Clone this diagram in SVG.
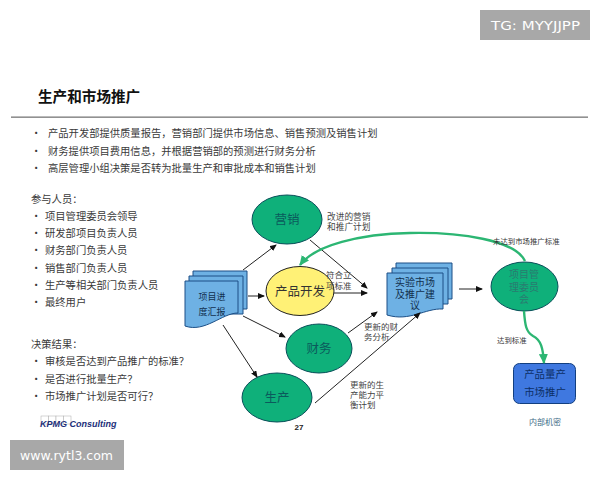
<svg xmlns="http://www.w3.org/2000/svg" width="600" height="480" viewBox="0 0 600 480">
<style>
text{font-family:"Noto Sans CJK SC","Liberation Serif",serif;fill:#333}
.b{font-size:10.300px;fill:#3a3a3a}
.s{font-size:8.500px;fill:#444}
.n{font-size:7.400px;fill:#333}
.c{text-anchor:middle}
.g{fill:#0fb07a;stroke:#0b4f5a;stroke-width:1}
.gt{font-size:12.500px;fill:#0b5a5c}
.ct{font-size:10px;fill:#2a7a70}
.doc{fill:#6eb1e4;stroke:#1c4f86;stroke-width:1}
.dt{fill:#12304f}
.mt{font-size:10.400px;fill:#0c2f66}
.a{fill:none;stroke:#222;stroke-width:1;marker-end:url(#m)}
.t{fill:none;stroke:#2cb673;stroke-width:2.400;marker-end:url(#gm)}
.wm{font-family:"DejaVu Sans",sans-serif;fill:#fff;font-size:12.500px}
.lb{fill:#fff;stroke:#aaa;stroke-width:.5}
.l{font-family:"Liberation Sans",sans-serif;font-weight:700}
</style>
<defs>
<marker id="m" markerWidth="7" markerHeight="6" refX="6" refY="3" orient="auto" markerUnits="userSpaceOnUse"><path d="M0 0L7 3L0 6z" fill="#111"/></marker>
<marker id="gm" markerWidth="10" markerHeight="9" refX="9" refY="4.500" orient="auto" markerUnits="userSpaceOnUse"><path d="M0 0L10 4.500L0 9z" fill="#2cb673"/></marker>
</defs>
<rect width="600" height="480" fill="#fff"/>
<g id="tg"><rect x="480" y="10" width="110" height="30" fill="#a8a8a8"/><text class="wm" x="491" y="30" textLength="89" lengthAdjust="spacingAndGlyphs">TG: MYYJJPP</text></g>
<g id="title"><text x="38" y="102" font-size="14.600" font-weight="700" style="fill:#111">生产和市场推广</text><rect x="11" y="116.500" width="577" height="1.300" fill="#777"/></g>
<g id="intro">
<text class="b" x="31" y="137">•</text><text class="b" x="48" y="137">产品开发部提供质量报告，营销部门提供市场信息、销售预测及销售计划</text>
<text class="b" x="31" y="155">•</text><text class="b" x="48" y="155">财务提供项目费用信息，并根据营销部的预测进行财务分析</text>
<text class="b" x="31" y="172">•</text><text class="b" x="48" y="172">高层管理小组决策是否转为批量生产和审批成本和销售计划</text>
</g>
<g id="people">
<text class="b" x="31" y="203">参与人员：</text>
<text class="b" x="31" y="220">•</text><text class="b" x="45" y="220">项目管理委员会领导</text>
<text class="b" x="31" y="237">•</text><text class="b" x="45" y="237">研发部项目负责人员</text>
<text class="b" x="31" y="254">•</text><text class="b" x="45" y="254">财务部门负责人员</text>
<text class="b" x="31" y="272">•</text><text class="b" x="45" y="272">销售部门负责人员</text>
<text class="b" x="31" y="289">•</text><text class="b" x="45" y="289">生产等相关部门负责人员</text>
<text class="b" x="31" y="306">•</text><text class="b" x="45" y="306">最终用户</text>
<text class="b" x="31" y="348">决策结果：</text>
<text class="b" x="31" y="365">•</text><text class="b" x="45" y="365">审核是否达到产品推广的标准？</text>
<text class="b" x="31" y="383">•</text><text class="b" x="45" y="383">是否进行批量生产？</text>
<text class="b" x="31" y="400">•</text><text class="b" x="45" y="400">市场推广计划是否可行？</text>
</g>
<g id="report">
<path class="doc" d="M193 271H247V309H193z"/>
<path class="doc" d="M189 276H243V314H189z"/>
<path class="doc" d="M185 281H238V313C222 313 205 333 185 326z"/>
<text class="c dt" font-size="9"><tspan x="212" y="300">项目进</tspan><tspan x="212" y="315">度汇报</tspan></text>
</g>
<g id="market"><ellipse class="g" cx="287" cy="219.500" rx="35" ry="24.500"/><text class="c gt" x="287" y="224">营销</text></g>
<g id="dev"><ellipse cx="300" cy="291" rx="34" ry="24.500" fill="#fff176" stroke="#222"/><text class="c" x="300" y="296" font-size="12.500">产品开发</text></g>
<g id="finance"><ellipse class="g" cx="319" cy="348.500" rx="33" ry="24.500"/><text class="c gt" x="319" y="353">财务</text></g>
<g id="prod"><ellipse class="g" cx="277" cy="397.500" rx="35" ry="24.500"/><text class="c gt" x="277" y="402">生产</text></g>
<g id="proposal">
<path class="doc" d="M396 263H452V299H396z"/>
<path class="doc" d="M392 268H448V304H392z"/>
<path class="doc" d="M387 273H443V309C425 308 410 322 387 315z"/>
<text class="c dt" font-size="10"><tspan x="415" y="286">实验市场</tspan><tspan x="415" y="298">及推广建</tspan><tspan x="415" y="309">议</tspan></text>
</g>
<g id="committee"><ellipse class="g" cx="524.500" cy="286.500" rx="33.500" ry="24.500"/>
<text class="c ct"><tspan x="524" y="278">项目管</tspan><tspan x="524" y="291">理委员</tspan><tspan x="524" y="303">会</tspan></text></g>
<g id="mass"><rect x="513.500" y="363.500" width="62" height="40" rx="6" fill="#3f78e0" stroke="#123f80" stroke-width="1"/>
<text class="c mt"><tspan x="545" y="378">产品量产</tspan><tspan x="545" y="396">市场推广</tspan></text></g>
<g id="connectors">
<path class="a" d="M243 270L276 245"/>
<path class="a" d="M248 296L264 296"/>
<path class="a" d="M243 316L285 337"/>
<path class="a" d="M223 325L257 377"/>
<path class="a" d="M310 240L367 288"/>
<path class="a" d="M334 293L367 293"/>
<path class="a" d="M348 333L377 312"/>
<path class="a" d="M315 403L420 313"/>
<path class="a" d="M459 289L482 289"/>
<path class="t" d="M525 261C515 240 460 232 410 233C360 234 315 245 300 265"/>
<path class="t" d="M524 311C525 325 526 332 533 336C541 340 543 348 544 363"/>
</g>
<g id="labels">
<text class="s" style="font-size:8.700px"><tspan x="327" y="220">改进的营销</tspan><tspan x="327" y="230">和推广计划</tspan></text>
<text class="s"><tspan x="326" y="278">符合立</tspan><tspan x="326" y="288.500">项标准</tspan></text>
<text class="s"><tspan x="364" y="330">更新的财</tspan><tspan x="364" y="340">务分析</tspan></text>
<text class="s"><tspan x="350" y="388">更新的生</tspan><tspan x="350" y="398">产能力平</tspan><tspan x="350" y="408">衡计划</tspan></text>
<text class="n" x="493" y="244">未达到市场推广标准</text>
<text class="n" x="497" y="343">达到标准</text>
<text class="c" x="545" y="425" font-size="8" style="fill:#3d6a86">内部机密</text>
<text class="c l" x="299" y="430" font-size="8" style="fill:#222">27</text>
</g>
<g id="logo">
<rect class="lb" x="41" y="416" width="7.500" height="8"/><rect class="lb" x="48.500" y="416" width="7.500" height="8"/><rect class="lb" x="56" y="416" width="7.500" height="8"/><rect class="lb" x="63.500" y="416" width="7.500" height="8"/>
<text class="l" x="40" y="427" font-size="9" font-style="italic" style="fill:#1c2f7a">KPMG Consulting</text></g>
<g id="site"><rect x="10" y="440" width="114" height="30" fill="#a8a8a8"/><text class="wm" x="20" y="460" textLength="93" lengthAdjust="spacingAndGlyphs">www.rytl3.com</text></g>
</svg>
